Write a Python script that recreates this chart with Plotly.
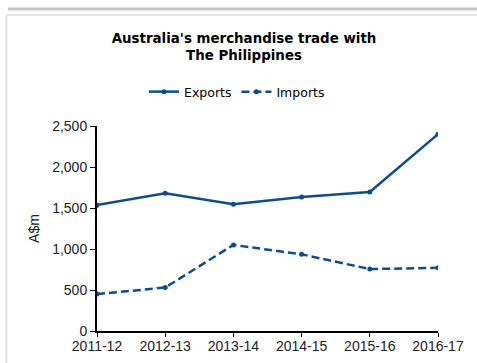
import plotly.graph_objects as go

years = ["2011-12", "2012-13", "2013-14", "2014-15", "2015-16", "2016-17"]
exports = [1535, 1680, 1545, 1635, 1695, 2400]
imports = [450, 530, 1050, 935, 755, 770]

LINE = "#0e4c8c"

fig = go.Figure()
fig.add_trace(go.Scatter(
    x=years, y=exports, name="Exports", mode="lines+markers",
    line=dict(color=LINE, width=2.5), marker=dict(size=5, color=LINE),
))
fig.add_trace(go.Scatter(
    x=years, y=imports, name="Imports", mode="lines+markers",
    line=dict(color=LINE, width=2.5, dash="8px,4px"), marker=dict(size=5, color=LINE),
))

L, R, T, B = 97, 39, 126, 32
W, H = 477, 363
pw, ph = W - L - R, H - T - B


def px(x):
    return (x - L) / pw


def py(y):
    return (H - B - y) / ph


# panel frame lines
shapes = [
    dict(type="line", xref="paper", yref="paper", x0=px(8), x1=px(477), y0=py(9), y1=py(9),
         line=dict(color="#c6c6c6", width=3)),
    dict(type="line", xref="paper", yref="paper", x0=px(6), x1=px(477), y0=py(15), y1=py(15),
         line=dict(color="#e2e2e2", width=2)),
    dict(type="line", xref="paper", yref="paper", x0=px(6.5), x1=px(6.5), y0=py(15), y1=py(363),
         line=dict(color="#e2e2e2", width=2)),
]

TICK_FONT = dict(family="Liberation Sans", size=14, color="#222")

fig.update_layout(
    width=W, height=H,
    margin=dict(l=L, r=R, t=T, b=B, autoexpand=False),
    paper_bgcolor="white", plot_bgcolor="white",
    shapes=shapes,
    title=dict(
        text="<b>Australia's merchandise trade with<br>The Philippines</b>",
        x=244 / W, xanchor="center", y=1 - 43 / H, yanchor="middle",
        font=dict(family="DejaVu Sans", size=13.4, color="black"),
    ),
    legend=dict(
        orientation="h", x=px(237), xanchor="center", y=py(92), yanchor="middle",
        font=dict(family="DejaVu Sans", size=12.5, color="black"),
        itemwidth=30, tracegroupgap=0,
    ),
    xaxis=dict(
        type="category", range=[0, 5], showgrid=False, zeroline=False,
        showline=True, linecolor="black", linewidth=2, automargin=False,
        ticks="outside", ticklen=4, tickcolor="black", tickwidth=1,
        ticklabelstandoff=-3,
        tickfont=TICK_FONT,
    ),
    yaxis=dict(
        range=[0, 2500], tickvals=[0, 500, 1000, 1500, 2000, 2500],
        tickformat=",", showgrid=False, zeroline=False,
        showline=True, linecolor="black", linewidth=2, automargin=False,
        ticks="outside", ticklen=5, tickcolor="black", tickwidth=1,
        tickfont=TICK_FONT,
        title=dict(text="A$m", font=dict(family="Liberation Sans", size=14, color="#222"), standoff=9),
    ),
)

fig.write_html("out.html")
